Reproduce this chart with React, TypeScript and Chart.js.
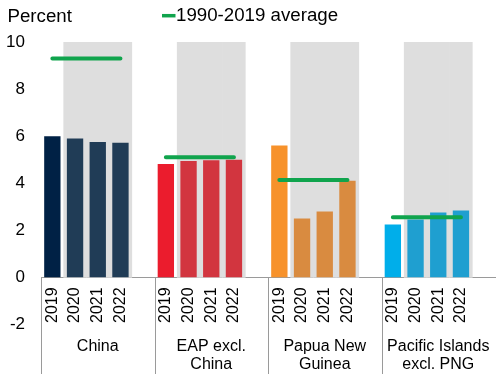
import React, { useEffect, useRef } from 'react';
import { Chart, registerables } from 'chart.js';

Chart.register(...registerables);

// ---- data ----
const groupNames = ['China', 'EAP excl.\nChina', 'Papua New\nGuinea', 'Pacific Islands\nexcl. PNG'];
const years = ['2019', '2020', '2021', '2022'];
const chinaGrowth = [6.0, 5.9, 5.75, 5.72];
const eapGrowth = [4.82, 4.94, 4.97, 5.0];
const pngGrowth = [5.6, 2.5, 2.8, 4.1];
const pacificGrowth = [2.25, 2.46, 2.76, 2.84];
const groupAverages = [9.3, 5.1, 4.14, 2.55];
const isForecast = [false, true, true, true];
const forecastShadeTop = 10;
const yMin = -2;
const yMax = 10;
const yStep = 2;
const legendLabel = '1990-2019 average';
const yTitle = 'Percent';

// ---- styles ----
const actualColors = ['#002145', '#eb1c2d', '#f7922b', '#00aeea'];
const forecastColors = ['#203c56', '#d2353f', '#d98b40', '#1f9fd0'];
const shadeColor = '#dedede';
const avgColor = '#10a44d';
const axisColor = '#9a9a9a';
const FONT = "'Liberation Sans', Arial, sans-serif";

const groupValues = [chinaGrowth, eapGrowth, pngGrowth, pacificGrowth];

export default function App() {
  const ref = useRef<HTMLCanvasElement | null>(null);

  useEffect(() => {
    if (!ref.current) return;
    const labels: string[] = [];
    const barData: (number | null)[] = [];
    const barColors: string[] = [];
    const shadeData: (number | null)[] = [];
    const avgData: (number | null)[] = [];
    groupNames.forEach((_, gi) => {
      years.forEach((yr, yi) => {
        labels.push(yr);
        barData.push(groupValues[gi][yi]);
        barColors.push(yi === 0 ? actualColors[gi] : forecastColors[gi]);
        shadeData.push(isForecast[yi] ? forecastShadeTop : null);
        avgData.push(groupAverages[gi]);
      });
      labels.push('');
      barData.push(null);
      barColors.push('rgba(0,0,0,0)');
      shadeData.push(null);
      avgData.push(null);
    });
    const slotsPerGroup = years.length + 1;

    const decorations = {
      id: 'decorations',
      afterDraw(chart: any) {
        const ctx = chart.ctx;
        const xs = chart.scales.x;
        const ys = chart.scales.y;
        const half = (xs.getPixelForValue(1) - xs.getPixelForValue(0)) / 2;
        const y0 = ys.getPixelForValue(0);
        ctx.save();
        // group separators and labels
        ctx.strokeStyle = axisColor;
        ctx.lineWidth = 1;
        ctx.fillStyle = '#000';
        ctx.font = `16px ${FONT}`;
        ctx.textAlign = 'center';
        ctx.textBaseline = 'alphabetic';
        groupNames.forEach((name, gi) => {
          const first = gi * slotsPerGroup;
          const left = xs.getPixelForValue(first) - half;
          const lx = Math.round(left) + 0.5;
          ctx.beginPath();
          ctx.moveTo(lx, Math.round(y0));
          ctx.lineTo(lx, 374);
          ctx.stroke();
          const center = left + slotsPerGroup * half;
          name.split('\n').forEach((line, li) => {
            ctx.fillText(line, center, 350.5 + li * 18.5);
          });
        });
        // y title
        ctx.textAlign = 'left';
        ctx.textBaseline = 'middle';
        ctx.font = `18.7px ${FONT}`;
        ctx.fillText(yTitle, 7.5, 16.5);
        // legend
        ctx.strokeStyle = avgColor;
        ctx.lineWidth = 3.5;
        ctx.beginPath();
        ctx.moveTo(162, 15.7);
        ctx.lineTo(175.5, 15.7);
        ctx.stroke();
        ctx.fillText(legendLabel, 176, 16);
        ctx.restore();
      },
    };

    const chart = new Chart(ref.current, {
      type: 'bar',
      data: {
        labels,
        datasets: [
          {
            type: 'line',
            label: legendLabel,
            data: avgData,
            borderColor: avgColor,
            backgroundColor: avgColor,
            borderWidth: 4,
            borderCapStyle: 'round',
            pointRadius: 0,
            spanGaps: false,
            order: 0,
          } as any,
          {
            type: 'bar',
            label: 'Growth',
            data: barData,
            backgroundColor: barColors,
            grouped: false,
            barPercentage: 0.72,
            categoryPercentage: 1,
            order: 1,
          } as any,
          {
            type: 'bar',
            label: 'Forecast',
            data: shadeData,
            backgroundColor: shadeColor,
            grouped: false,
            barPercentage: 1,
            categoryPercentage: 1,
            order: 2,
          } as any,
        ],
      },
      options: {
        responsive: false,
        animation: false,
        layout: { padding: { top: 42, right: 5, bottom: 49.6, left: 0 } },
        plugins: {
          legend: { display: false },
          tooltip: { enabled: false },
        },
        scales: {
          x: {
            position: { y: 0 } as any,
            offset: true,
            grid: { display: false, drawTicks: false },
            border: { display: true, color: axisColor, width: 1 },
            ticks: {
              autoSkip: false,
              maxRotation: 90,
              minRotation: 90,
              padding: 10,
              color: '#000',
              font: { family: FONT, size: 16 },
            },
            afterFit(scale: any) {
              scale.paddingLeft = 0;
              scale.paddingRight = 0;
            },
          },
          y: {
            min: yMin,
            max: yMax,
            grid: { display: false, drawTicks: false },
            border: { display: false },
            ticks: {
              stepSize: yStep,
              padding: 16,
              color: '#000',
              font: { family: FONT, size: 17 },
            },
            afterFit(scale: any) {
              scale.width = 41;
              scale.paddingTop = 0;
              scale.paddingBottom = 0;
            },
          },
        },
      },
      plugins: [decorations],
    });
    return () => chart.destroy();
  }, []);

  return (
    <div style={{ position: 'absolute', left: 0, top: 0, width: 500, height: 374 }}>
      <canvas ref={ref} width={500} height={374} style={{ display: 'block' }} />
    </div>
  );
}
